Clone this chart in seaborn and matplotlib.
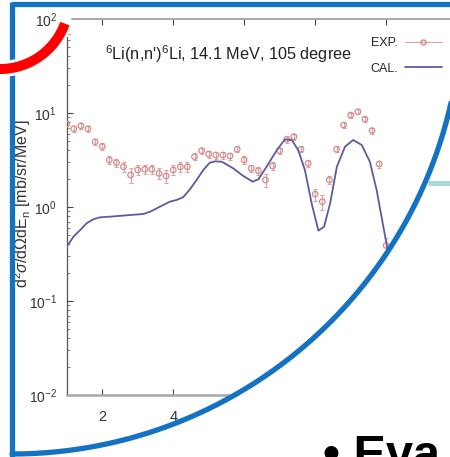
import numpy as np
import pandas as pd
import matplotlib
matplotlib.use('Agg')
import matplotlib.pyplot as plt
import seaborn as sns
from matplotlib.lines import Line2D

# measured points (EXP.) and calculation (CAL.)
exp_e = [1.0, 1.2, 1.4, 1.6, 1.8, 2.0, 2.2, 2.4, 2.6, 2.8, 3.0, 3.2, 3.4, 3.6, 3.8,
         4.0, 4.2, 4.4, 4.6, 4.8, 5.0, 5.2, 5.4, 5.6, 5.8, 6.0, 6.2, 6.4, 6.6, 6.8,
         7.0, 7.2, 7.4, 7.6, 7.8, 8.0, 8.2, 8.4, 8.6, 8.8, 9.0, 9.2, 9.4, 9.6, 9.8, 10.0]
exp_y = [7.6, 6.8, 7.3, 6.8, 4.95, 4.4, 3.16, 2.96, 2.68, 2.19, 2.48, 2.52, 2.52, 2.28, 2.14,
         2.48, 2.68, 2.68, 3.43, 3.97, 3.66, 3.57, 3.57, 3.49, 4.11, 3.16, 2.58, 2.43, 1.94, 2.73,
         3.97, 5.25, 5.6, 4.11, 2.92, 1.37, 1.14, 1.94, 4.11, 7.45, 9.5, 10.3, 8.6, 6.5, 2.87, 0.39]
exp_err = [0.6, 0.5, 0.5, 0.5, 0.4, 0.35, 0.3, 0.3, 0.3, 0.38, 0.3, 0.3, 0.3, 0.3, 0.36,
           0.3, 0.3, 0.3, 0.3, 0.3, 0.3, 0.3, 0.3, 0.3, 0.3, 0.3, 0.25, 0.25, 0.3, 0.25,
           0.3, 0.4, 0.4, 0.3, 0.25, 0.2, 0.2, 0.2, 0.3, 0.5, 0.6, 0.6, 0.5, 0.45, 0.25, 0.08]

cal_e = [1.0, 1.19, 1.38, 1.56, 1.75, 1.94, 2.22, 2.69, 3.16, 3.35, 3.63, 3.91, 4.10, 4.28,
         4.47, 4.66, 4.85, 5.03, 5.18, 5.37, 5.69, 5.97, 6.24, 6.40, 6.63, 6.92, 7.15, 7.34,
         7.52, 7.71, 7.90, 8.09, 8.25, 8.42, 8.61, 8.84, 9.07, 9.31, 9.54, 9.73, 9.92, 10.06, 10.2]
cal_y = [0.378, 0.483, 0.569, 0.671, 0.740, 0.777, 0.789, 0.816, 0.843, 0.891, 1.01, 1.14, 1.19, 1.27,
         1.54, 1.94, 2.48, 2.96, 3.06, 3.03, 2.58, 2.14, 1.86, 1.97, 2.68, 4.04, 5.25, 5.16,
         4.04, 2.48, 1.09, 0.56, 0.617, 1.09, 2.68, 4.38, 5.16, 4.57, 3.03, 1.52, 0.617, 0.32, 0.15]

title = "$^6$Li(n,n')$^6$Li, 14.1 MeV, 105 degree"

W, H = 450, 457

sns.set_style('white')
plt.rcParams['font.family'] = ['Liberation Sans', 'DejaVu Sans']
plt.rcParams['mathtext.fontset'] = 'custom'
plt.rcParams['mathtext.rm'] = 'Liberation Sans'
plt.rcParams['mathtext.it'] = 'Liberation Sans:italic'

fig = plt.figure(figsize=(W / 100, H / 100), dpi=100)
fig.patch.set_facecolor('white')

# axes: x from 1 MeV, 35.5 px per MeV, y 1e-2..1e2
ax = fig.add_axes([66.7 / W, 1 - 395 / H, 11 * 35.5 / W, 376 / H])
ax.set_facecolor('white')

exp_col = '#d88a8a'
cal_col = '#5b5ba3'

ax.errorbar(exp_e, exp_y, yerr=exp_err, fmt='none', ecolor='#e0a0a0',
            elinewidth=0.8, capsize=1.6, capthick=0.8, zorder=2)
sns.scatterplot(x=exp_e, y=exp_y, ax=ax, marker='o', s=16, facecolor='none',
                edgecolor=exp_col, linewidth=0.9, zorder=3)
cal_df = pd.DataFrame({'e': cal_e, 'y': cal_y})
sns.lineplot(data=cal_df, x='e', y='y', ax=ax, color=cal_col, linewidth=1.3,
             sort=False, zorder=4)

ax.set_yscale('log')
ax.set_ylim(1e-2, 1e2)
ax.set_xlim(1, 12)
ax.set_xticks([2, 4, 6, 8, 10])
ax.set_xlabel('')
ax.set_ylabel(r'd$^2\sigma$/d$\Omega$dE$_\mathrm{n}$ [mb/sr/MeV]', fontsize=11.5, color='#333333')
ax.yaxis.set_label_coords(-0.086, 0.51)

ax.tick_params(axis='x', which='major', direction='in', top=True, bottom=True,
               length=4, width=0.8, color='#444444', labelsize=10.5, labelcolor='#333333', pad=11)
ax.tick_params(axis='y', which='major', direction='in', left=True, right=False,
               length=4, width=0.8, color='#444444', labelsize=10, labelcolor='#333333', pad=7)
ax.tick_params(axis='y', which='minor', direction='in', left=True, right=False,
               length=2, width=0.6, color='#666666')
for side, col, lw in [('left', '#555555', 0.9), ('bottom', '#a8a8a8', 1.8),
                      ('top', '#a8a8a8', 1.4), ('right', '#a8a8a8', 1.4)]:
    ax.spines[side].set_visible(True)
    ax.spines[side].set_color(col)
    ax.spines[side].set_linewidth(lw)

ax.text(0.098, 0.891, title, transform=ax.transAxes, fontsize=11.7,
        color='#222222', va='baseline', ha='left')

handles = [Line2D([], [], color='#e0a0a0', lw=0.8, marker='o', markersize=3.6,
                  markerfacecolor='none', markeredgecolor=exp_col),
           Line2D([], [], color=cal_col, lw=1.3)]
ax.legend(handles, ['EXP.', 'CAL.'], loc='upper right', frameon=False,
          bbox_to_anchor=(442 / W, 1 - 37 / H), bbox_transform=fig.transFigure,
          markerfirst=False, numpoints=1, fontsize=9, handlelength=3.0,
          handletextpad=0.5, labelspacing=1.1, borderpad=0, borderaxespad=0)

# slide overlay: blue rounded frame, red arc, teal bar, bullet text
ov = fig.add_axes([0, 0, 1, 1], zorder=10)
ov.set_xlim(0, W)
ov.set_ylim(H, 0)
ov.axis('off')
ov.patch.set_alpha(0)

cx, cy, r = 12, 4, 450
t = np.linspace(0, np.pi / 2, 200)
ax_pts = cx + r * np.cos(t)
ay_pts = cy + r * np.sin(t)
mask_x = np.concatenate([ax_pts, [cx, W + 20, W + 20]])
mask_y = np.concatenate([ay_pts, [H + 20, H + 20, cy]])
ov.fill(mask_x, mask_y, color='white', lw=0, zorder=1)

ov.plot([428, W + 5], [183, 183], color='#a9dada', lw=3.6, solid_capstyle='butt', zorder=2)

blue = '#1472c2'
ov.plot(ax_pts, ay_pts, color=blue, lw=3.8, zorder=3)
ov.plot([cx, W + 5], [cy, cy], color=blue, lw=3.8, solid_capstyle='butt', zorder=3)
ov.plot([cx, cx], [cy - 2, H + 5], color=blue, lw=3.8, solid_capstyle='butt', zorder=3)

tr = np.linspace(np.radians(20), np.radians(120), 100)
rx = 69 * np.cos(tr)
ry = 69 * np.sin(tr)
ov.plot(rx, ry, color='white', lw=11.5, solid_capstyle='round', zorder=4, clip_on=False)
ov.plot(rx, ry, color='#ff0000', lw=7.2, solid_capstyle='butt', zorder=5, clip_on=False)

ov.text(323, 469, '\u2022 Eva', fontsize=35, fontweight='bold', family=['Liberation Sans', 'DejaVu Sans'],
        color='black', ha='left', va='baseline', zorder=6, clip_on=False)

fig.savefig('out.png', dpi=100, facecolor='white')
